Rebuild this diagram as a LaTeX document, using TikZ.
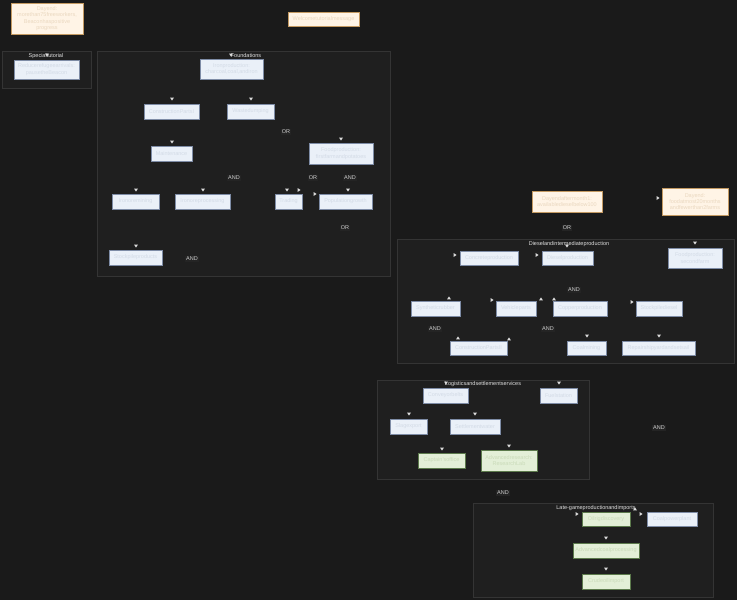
\documentclass[tikz,border=0pt]{standalone}
\usepackage{fontspec}
\setmainfont{Liberation Sans}
\usetikzlibrary{arrows.meta}
\definecolor{bgdark}{HTML}{1A1A1A}
\definecolor{clusterfill}{HTML}{1F1F1F}
\definecolor{clusterline}{HTML}{343434}
\definecolor{clustertext}{HTML}{E0E0E0}
\definecolor{taskfill}{HTML}{EAF0F8}
\definecolor{taskline}{HTML}{7E8CA6}
\definecolor{tasktext}{HTML}{D3DBE6}
\definecolor{goalfill}{HTML}{FFF4E6}
\definecolor{goalline}{HTML}{C49A62}
\definecolor{goaltext}{HTML}{EAD8C0}
\definecolor{donefill}{HTML}{E3EFD7}
\definecolor{doneline}{HTML}{5C7A4C}
\definecolor{donetext}{HTML}{CADBB9}
\definecolor{gatefill}{HTML}{242424}
\definecolor{gatetext}{HTML}{CFCFCF}
\definecolor{tipcol}{HTML}{DDDDDD}
\newcommand{\diagfont}{\fontsize{5.5}{6.3}\selectfont}
\newcommand{\arrowtip}[3]{% \arrowtip ==== V
		\fill[tipcol, shift={(#1,#2)}, rotate=#3]
		(1.6,0) -- (-1.4,2) -- (-1.4,-2) -- cycle; % head
	}
\begin{document}
\begin{tikzpicture}[x=1pt, y=-1pt, font=\diagfont,
		task/.style 2 args={draw=taskline, fill=taskfill, text=tasktext, line width=0.8pt,
			minimum width=#1, minimum height=#2, inner sep=0pt, align=center},
		goal/.style 2 args={task={#1}{#2}, draw=goalline, fill=goalfill, text=goaltext},
		done/.style 2 args={task={#1}{#2}, draw=doneline, fill=donefill, text=donetext},
		gate/.style={fill=gatefill, text=gatetext, inner sep=1pt, yshift=-0.8pt},
		cluster/.style={draw=clusterline, fill=clusterfill, line width=0.6pt},
		clusterlabel/.style={text=clustertext, inner sep=0pt, yshift=-0.8pt}]
		\useasboundingbox (0,0) rectangle (737,600);
		\fill[bgdark] (0,0) rectangle (737,600);

		% goals on top
		\node[goal={72}{31}] (dayfree) at (47,18.5) {Dayend:\\morethan75freeworkers,\\Beaconhaspositive\\progress};
		\node[goal={71}{14}] (welcome) at (323.5,19) {Welcometutorialmessage};

		% special tutorial ==== V
		\draw[cluster] (2,51) rectangle (91,88);
		\node[clusterlabel] (speclabel) at (46,55) {Specialtutorial};
		\node[task={65}{19}] (reduce) at (46.5,69.5) {Reducerefugeearrivals:\\pausetheBeacon};

		% foundations ==== V
		\draw[cluster] (97,51) rectangle (390,276);
		\node[clusterlabel] (foundlabel) at (246,55) {Foundations};
		\node[task={63}{20}] (ironprod) at (231.5,69) {Ironproduction:\\charcoal,coal,andiron};
		\node[task={55}{15}] (partsone) at (171.5,111.5) {ConstructionPartsI};
		\node[task={47}{15}] (waste) at (250.5,111.5) {Wastedumping};
		\node[task={41}{15}] (maint) at (171.5,153.5) {Maintenance};
		\node[task={64}{21}] (foodone) at (341,153.5) {Foodproduction:\\firstfarmandpotatoes};
		\node[task={47}{15}] (ironmine) at (135.5,201.5) {Ironoremining};
		\node[task={55}{15}] (ironproc) at (202.5,201.5) {Ironoreprocessing};
		\node[task={27}{15}] (trading) at (288.5,201.5) {Trading};
		\node[task={53}{15}] (popgrowth) at (345.5,201.5) {Populationgrowth};
		\node[task={53}{15}] (stockprod) at (135.5,257.5) {Stockpileproducts};
		\node[gate] (orwaste) at (286,131) {OR};
		\node[gate] (andmaint) at (234,177) {AND};
		\node[gate] (ortrade) at (313,177) {OR};
		\node[gate] (andpop) at (350,177) {AND};
		\node[gate] (orpop) at (345,227) {OR};
		\node[gate] (andstock) at (192,258) {AND};

		% goals on the right
		\node[goal={70}{21}] (daymonth) at (567,201.5) {Dayendaftermonth1:\\availabledieselbelow100};
		\node[goal={66}{27}] (dayfood) at (695,201.5) {Dayend:\\foodatmost20months\\andfewerthan2farms};
		\node[gate] (ordiesel) at (567,227) {OR};

		% diesel and intermediate production ==== V
		\draw[cluster] (397,239) rectangle (734,363);
		\node[clusterlabel] (diesellabel) at (569,243) {Dieselandintermediateproduction};
		\node[task={58}{14}] (concrete) at (489,258) {Concreteproduction};
		\node[task={51}{14}] (diesel) at (567.5,258) {Dieselproduction};
		\node[task={54}{20}] (foodtwo) at (695,258) {Foodproduction:\\secondfarm};
		\node[task={49}{15}] (rubber) at (435.5,308.5) {Syntheticrubber};
		\node[task={40}{15}] (vehicle) at (516,308.5) {Vehicleparts};
		\node[task={54}{15}] (copper) at (580,308.5) {Copperproduction};
		\node[task={46}{15}] (stockdiesel) at (659,308.5) {Stockpilediesel};
		\node[task={57}{14}] (partstwo) at (478.5,348) {ConstructionPartsII};
		\node[task={39}{14}] (coal) at (586.5,348) {Coalmining};
		\node[task={73}{14}] (shipyard) at (658.5,348) {Repairshipyardandsetsail};
		\node[gate] (anddiesel) at (574,289) {AND};
		\node[gate] (andrubber) at (435,328) {AND};
		\node[gate] (andcopper) at (548,328) {AND};

		% logistics and settlement services ==== V
		\draw[cluster] (377,380) rectangle (589,479);
		\node[clusterlabel] (logilabel) at (483,383) {Logisticsandsettlementservices};
		\node[task={45}{15}] (conveyor) at (445.5,395.5) {Conveyorbelts};
		\node[task={37}{15}] (fuel) at (558.5,395.5) {Fuelstation};
		\node[task={37}{15}] (slag) at (408.5,426.5) {Slagexport};
		\node[task={50}{15}] (water) at (475,426.5) {Settlementwater};
		\node[done={47}{15}] (captain) at (441.5,460.5) {Captain'soffice};
		\node[done={56}{21}] (research) at (509,460.5) {Advancedresearch:\\ResearchLab};
		\node[gate] (andfuel) at (659,427) {AND};
		\node[gate] (andlogi) at (503,492) {AND};

		% late-game production and imports ==== V
		\draw[cluster] (473,503) rectangle (713,597);
		\node[clusterlabel] (latelabel) at (596,507) {Late-gameproductionandimports};
		\node[done={48}{14}] (oilrig) at (606,519) {Oilrigdiscovery};
		\node[task={50}{14}] (coalpower) at (672,519) {Coalpowerplant};
		\node[done={66}{15}] (advcoal) at (606,550.5) {Advancedcoalprocessing};
		\node[done={48}{15}] (crude) at (606,581.5) {Crudeoilimport};

		% arrow heads
		\foreach \x/\y in {47/55, 231/55, 172/99, 251/99, 172/142, 341/139, 136/190, 203/190,
			287/190, 348/190, 136/246, 567/246, 695/243, 587/336, 659/336, 446/383, 559/383,
			409/414, 475/414, 442/449, 509/446, 606/538, 606/569}
			\arrowtip{\x}{\y}{-90};
		\foreach \x/\y in {299/190, 315/194, 658/198, 455/255, 537/255, 492/300, 632/302,
			577/514, 641/514}
			\arrowtip{\x}{\y}{0};
		\foreach \x/\y in {449/298, 541/299, 554/299, 458/338, 509/339, 635/509}
			\arrowtip{\x}{\y}{90};
	\end{tikzpicture}
\end{document}
